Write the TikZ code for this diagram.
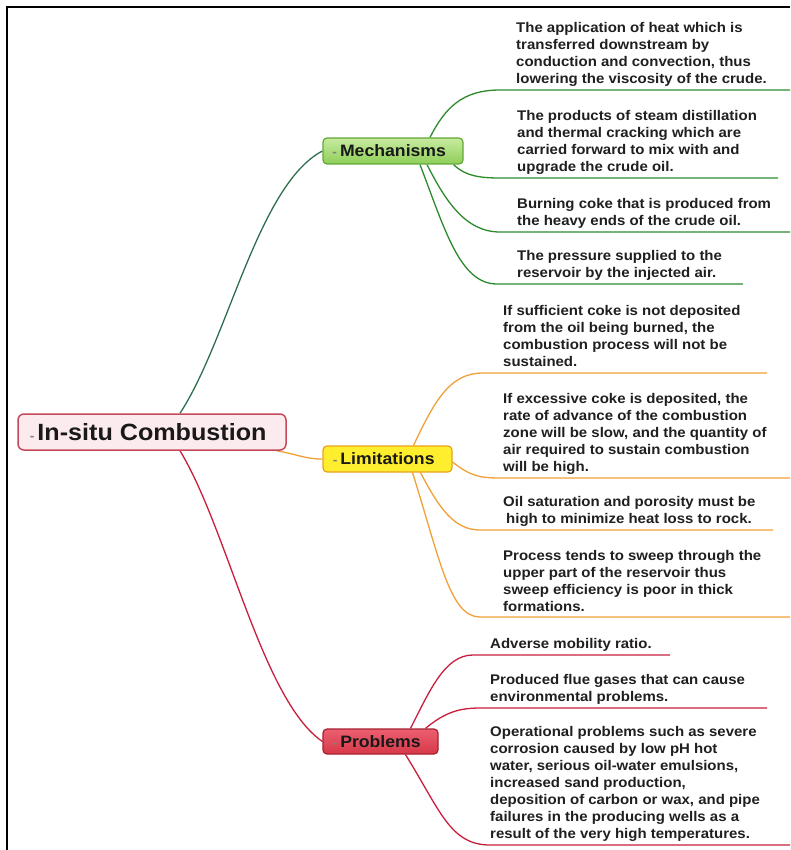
\documentclass[tikz,border=0pt]{standalone}
\usepackage{fontspec}
\setmainfont{Liberation Sans}[FakeStretch=1.07]
\usetikzlibrary{backgrounds}
\definecolor{mgreen}{HTML}{2C8A2C}
\definecolor{rgreen}{HTML}{2F6F4F}
\definecolor{lorange}{HTML}{F0A038}
\definecolor{pred}{HTML}{C81E3C}
\definecolor{rootfill}{HTML}{FCEBEE}
\definecolor{rootdraw}{HTML}{C44A5A}
\definecolor{mechtop}{HTML}{C8EAA0}
\definecolor{mechbot}{HTML}{8ECF58}
\definecolor{mechdraw}{HTML}{62A838}
\definecolor{limfill}{HTML}{FFEE2E}
\definecolor{limdraw}{HTML}{E8A020}
\definecolor{probtop}{HTML}{EC6070}
\definecolor{probbot}{HTML}{D63848}
\definecolor{probdraw}{HTML}{A82030}
\newcommand{\mmdash}{\llap{\textcolor{gray}{\fontsize{13}{13}\selectfont -}\hspace{3pt}}}
\tikzset{
  body/.style={anchor=north west, inner sep=0pt, align=left,
    font=\bfseries\fontsize{14}{17}\selectfont, text=black!88},
  topic/.style={draw, rounded corners=4pt, line width=1.2pt, inner sep=0pt,
    font=\bfseries\fontsize{16.5}{20}\selectfont, text=black!90},
  conn/.style={line width=1.3pt}
}
\begin{document}
\begin{tikzpicture}[x=1pt,y=-1pt]
\useasboundingbox (0,0) rectangle (790,850);
\draw[line width=1.5pt] (7,850) -- (7,7) -- (790,7);

% main nodes
\node[draw=rootdraw, fill=rootfill, rounded corners=6pt, line width=1.5pt,
      minimum width=268pt, minimum height=36pt, inner sep=0pt,
      font=\bfseries\fontsize{23.5}{28}\selectfont, text=black!90]
      (root) at (152,432) {\mmdash In-situ Combustion};
\node[topic, draw=mechdraw, top color=mechtop, bottom color=mechbot,
      minimum width=140pt, minimum height=26pt] (mech) at (393,151) {\mmdash Mechanisms};
\node[topic, draw=limdraw, fill=limfill,
      minimum width=129pt, minimum height=26pt] (lim) at (387.5,459) {\mmdash Limitations};
\node[topic, draw=probdraw, top color=probtop, bottom color=probbot,
      minimum width=115pt, minimum height=25pt] (prob) at (380.5,741.5) {\mmdash Problems};

% text nodes
\node[body] (m1) at (516,21.5) {\rule{0pt}{11pt}The application of heat which is\\transferred downstream by\\conduction and convection, thus\\lowering the viscosity of the crude.};
\node[body] (m2) at (517,109.5) {\rule{0pt}{11pt}The products of steam distillation\\and thermal cracking which are\\carried forward to mix with and\\upgrade the crude oil.};
\node[body] (m3) at (517,197.5) {\rule{0pt}{11pt}Burning coke that is produced from\\the heavy ends of the crude oil.};
\node[body] (m4) at (517,249.5) {\rule{0pt}{11pt}The pressure supplied to the\\reservoir by the injected air.};
\node[body] (l1) at (503,304.5) {\rule{0pt}{11pt}If sufficient coke is not deposited\\from the oil being burned, the\\combustion process will not be\\sustained.};
\node[body] (l2) at (503,392.5) {\rule{0pt}{11pt}If excessive coke is deposited, the\\rate of advance of the combustion\\zone will be slow, and the quantity of\\air required to sustain combustion\\will be high.};
\node[body] (l3) at (503,495.5) {\rule{0pt}{11pt}Oil saturation and porosity must be\\\hspace*{3pt}high to minimize heat loss to rock.};
\node[body] (l4) at (503,549.5) {\rule{0pt}{11pt}Process tends to sweep through the\\upper part of the reservoir thus\\sweep efficiency is poor in thick\\formations.};
\node[body] (p1) at (490,637.5) {\rule{0pt}{11pt}Adverse mobility ratio.};
\node[body] (p2) at (490,673.5) {\rule{0pt}{11pt}Produced flue gases that can cause\\environmental problems.};
\node[body] (p3) at (490,725.5) {\rule{0pt}{11pt}Operational problems such as severe\\corrosion caused by low pH hot\\water, serious oil-water emulsions,\\increased sand production,\\deposition of carbon or wax, and pipe\\failures in the producing wells as a\\result of the very high temperatures.};

% underline coordinates
\coordinate (m1s) at (500,90);  \coordinate (m1e) at (790,90);
\coordinate (m2s) at (500,178); \coordinate (m2e) at (778,178);
\coordinate (m3s) at (500,232); \coordinate (m3e) at (790,232);
\coordinate (m4s) at (497,284); \coordinate (m4e) at (743,284);
\coordinate (l1s) at (483,373); \coordinate (l1e) at (767,373);
\coordinate (l2s) at (500,478); \coordinate (l2e) at (790,478);
\coordinate (l3s) at (480,530); \coordinate (l3e) at (773,530);
\coordinate (l4s) at (480,617); \coordinate (l4e) at (790,617);
\coordinate (p1s) at (473,655); \coordinate (p1e) at (670,655);
\coordinate (p2s) at (480,708); \coordinate (p2e) at (767,708);
\coordinate (p3s) at (490,845); \coordinate (p3e) at (790,845);

\begin{scope}[on background layer]
  \draw[conn, rgreen] ([xshift=28pt]root.north) .. controls (228,340) and (258,185) .. (mech.west);
  \draw[conn, lorange] ([xshift=-10pt]root.south east) .. controls (300,455) and (305,459) .. (lim.west);
  \draw[conn, pred] ([xshift=28pt]root.south) .. controls (228,530) and (262,700) .. (prob.west);

  \draw[conn, mgreen] ([xshift=37pt]mech.north) .. controls (445,108) and (462,90) .. (m1s) -- (m1e);
  \draw[conn, mgreen] ([xshift=-10pt]mech.south east) .. controls (465,176) and (480,178) .. (m2s) -- (m2e);
  \draw[conn, mgreen] ([xshift=34pt]mech.south) .. controls (445,200) and (465,232) .. (m3s) -- (m3e);
  \draw[conn, mgreen] ([xshift=27pt]mech.south) .. controls (445,230) and (460,284) .. (m4s) -- (m4e);

  \draw[conn, lorange] ([xshift=26pt]lim.north) .. controls (435,400) and (450,373) .. (l1s) -- (l1e);
  \draw[conn, lorange] ([yshift=-3pt]lim.east) .. controls (470,476) and (480,478) .. (l2s) -- (l2e);
  \draw[conn, lorange] ([xshift=33pt]lim.south) .. controls (440,510) and (455,530) .. (l3s) -- (l3e);
  \draw[conn, lorange] ([xshift=25pt]lim.south) .. controls (440,560) and (450,617) .. (l4s) -- (l4e);

  \draw[conn, pred] ([xshift=30pt]prob.north) .. controls (430,690) and (445,655) .. (p1s) -- (p1e);
  \draw[conn, pred] ([xshift=45pt]prob.north) .. controls (445,712) and (460,708) .. (p2s) -- (p2e);
  \draw[conn, pred] ([xshift=25pt]prob.south) .. controls (440,810) and (450,845) .. (p3s) -- (p3e);
\end{scope}
\end{tikzpicture}
\end{document}
